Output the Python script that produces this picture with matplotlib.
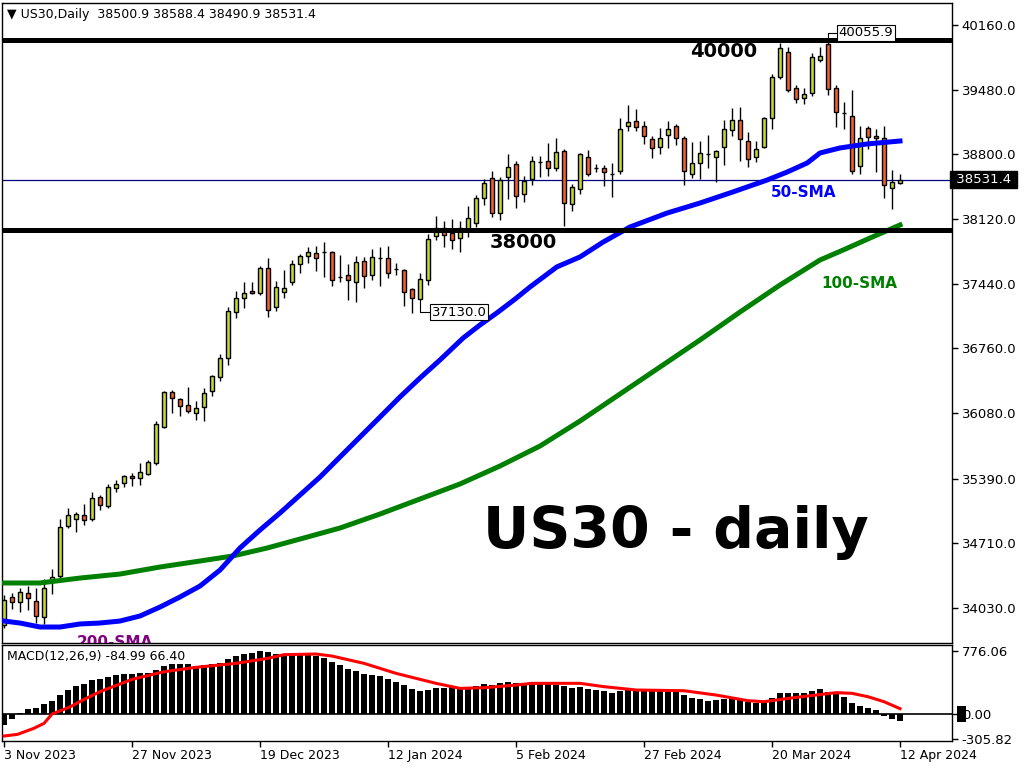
import matplotlib
matplotlib.use('Agg')
import matplotlib.pyplot as plt
import numpy as np
from matplotlib.patches import Rectangle

# daily candles, 3 Nov 2023 .. 12 Apr 2024
opens = [33851, 34146, 34093, 34188, 34104, 33935, 34303, 34366, 34892, 34966,
         35008, 34966, 35197, 35102, 35292, 35344, 35418, 35397, 35439, 35555,
         35933, 36301, 36228, 36164, 36080, 36143, 36311, 36459, 36659, 37142,
         37290, 37363, 37342, 37605, 37195, 37353, 37458, 37647, 37731, 37763,
         37773, 37773, 37510, 37531, 37458, 37679, 37531, 37705, 37710, 37596,
         37584, 37384, 37279, 37479, 37941, 38026, 37973, 37920, 38015, 38078,
         38341, 38551, 38183, 38562, 38699, 38383, 38541, 38715, 38730, 38657,
         38835, 38278, 38436, 38772, 38655, 38657, 38590, 38625, 39098, 39151,
         39098, 38962, 38877, 39004, 39098, 38972, 38593, 38709, 38806, 38772,
         38877, 39056, 39161, 38940, 38772, 38877, 39182, 39613, 39876, 39498,
         39393, 39445, 39792, 39960, 39498, 39230, 39203, 38677, 39077, 38993,
         38972, 38446, 38500.9]
highs = [34167, 34188, 34240, 34261, 34240, 34335, 34440, 34966, 35081, 35039,
         35123, 35250, 35218, 35334, 35376, 35428, 35449, 35555, 35586, 35996,
         36311, 36322, 36238, 36354, 36206, 36343, 36480, 36701, 37195, 37363,
         37458, 37458, 37626, 37710, 37468, 37584, 37689, 37752, 37826, 37836,
         37878, 37784, 37742, 37647, 37731, 37721, 37805, 37826, 37836, 37658,
         37594, 37395, 37552, 37962, 38152, 38099, 38120, 38099, 38257, 38373,
         38541, 38625, 38562, 38804, 38730, 38572, 38783, 38783, 38919, 38972,
         38856, 38488, 38814, 38846, 38699, 38688, 38709, 39183, 39319, 39277,
         39151, 38993, 39077, 39151, 39119, 38993, 38930, 38940, 39004, 38846,
         39161, 39288, 39298, 39035, 38940, 39193, 39645, 39971, 39929, 39529,
         39498, 39866, 39929, 39975, 39529, 39351, 39477, 39098, 39098, 39067,
         39098, 38635, 38588.4]
lows = [33820, 34019, 33988, 34009, 33872, 33862, 34177, 34335, 34871, 34829,
        34903, 34945, 35060, 35081, 35250, 35302, 35313, 35323, 35428, 35534,
        35923, 36080, 36049, 36080, 36007, 35996, 36259, 36417, 36585, 37079,
        37184, 37332, 37321, 37090, 37153, 37290, 37426, 37552, 37658, 37573,
        37510, 37416, 37458, 37269, 37248, 37395, 37479, 37416, 37500, 37531,
        37205, 37130, 37269, 37426, 37899, 37826, 37805, 37773, 37931, 38036,
        38267, 38141, 38110, 38331, 38236, 38299, 38478, 38562, 38572, 38625,
        38047, 38204, 38383, 38572, 38615, 38467, 38352, 38593, 39046, 39046,
        38909, 38762, 38804, 38867, 38898, 38478, 38551, 38541, 38657, 38509,
        38688, 38993, 38730, 38667, 38720, 38870, 39067, 39592, 39456, 39340,
        39330, 39414, 39771, 39424, 39088, 39067, 38593, 38593, 38856, 38615,
        38341, 38225, 38490.9]
closes = [34114, 34093, 34198, 34135, 33946, 34240, 34356, 34882, 35008, 35018,
          34955, 35187, 35113, 35302, 35334, 35418, 35397, 35460, 35565, 35965,
          36301, 36238, 36154, 36101, 36133, 36291, 36469, 36659, 37153, 37290,
          37342, 37342, 37605, 37163, 37405, 37395, 37647, 37731, 37773, 37710,
          37768, 37479, 37505, 37479, 37668, 37521, 37721, 37712, 37552, 37590,
          37353, 37290, 37489, 37910, 38026, 37952, 37899, 38026, 38130, 38341,
          38499, 38183, 38530, 38667, 38362, 38520, 38730, 38720, 38657, 38825,
          38288, 38457, 38804, 38593, 38660, 38615, 38595, 39067, 39140, 39088,
          38993, 38867, 38972, 39067, 38972, 38625, 38709, 38814, 38800, 38835,
          39067, 39161, 38962, 38751, 38856, 39182, 39613, 39918, 39477, 39382,
          39435, 39824, 39834, 39487, 39245, 39235, 38625, 38972, 38982, 38972,
          38478, 38509, 38531.4]

# moving averages (bar position, value)
sma50_idx = [0, 2, 4.5, 7, 9.5, 12, 14.5, 17, 19.5, 22, 24.5, 27, 29.5, 32, 34.5,
             37, 39.5, 42, 44.5, 47, 49.5, 52, 54.5, 57.4, 59.5, 61.6, 63.9, 65.75,
             69.1, 72, 74.9, 78.25, 82.9, 87, 91.1, 95.4, 97.9, 100.4, 102, 104.5,
             107.9, 112]
sma50_val = [33893, 33872, 33830, 33830, 33862, 33872, 33893, 33946, 34040, 34146,
             34261, 34429, 34661, 34850, 35029, 35218, 35407, 35618, 35828, 36038,
             36249, 36448, 36638, 36869, 37006, 37132, 37279, 37405, 37616, 37721,
             37878, 38036, 38183, 38288, 38404, 38530, 38614, 38709, 38814, 38867,
             38909, 38940]
sma100_idx = [0, 4.5, 9.5, 14.5, 19.5, 24.5, 28.6, 32.9, 37, 42, 47, 52, 57, 62,
              67, 72, 77, 82, 87, 92, 97, 102, 104.9, 108.25, 112]
sma100_val = [34293, 34293, 34345, 34387, 34461, 34524, 34577, 34661, 34755, 34871,
              35018, 35176, 35334, 35523, 35733, 35996, 36280, 36564, 36848, 37142,
              37426, 37689, 37794, 37920, 38057]

# MACD(12,26,9): main as histogram, signal as line
macd = [-135, -62, 16, 62, 74, 123, 160, 234, 296, 345, 369, 419, 431, 456, 484,
        493, 493, 505, 505, 542, 591, 616, 616, 616, 591, 603, 616, 628, 677, 714,
        739, 751, 776, 764, 739, 739, 727, 739, 727, 714, 690, 640, 603, 554, 530,
        493, 480, 468, 431, 394, 357, 308, 283, 296, 320, 320, 332, 320, 332, 345,
        369, 357, 378, 390, 378, 378, 390, 378, 365, 357, 345, 316, 328, 308, 296,
        283, 263, 287, 296, 304, 296, 296, 296, 296, 296, 234, 193, 181, 164, 172,
        181, 193, 181, 152, 140, 152, 193, 263, 263, 263, 263, 283, 308, 275, 255,
        213, 140, 99, 70, 49, -25, -66, -84.99]
signal_idx = [0, 1.7, 3.7, 5, 6, 8.3, 10, 12, 16, 20, 24, 29, 33, 35, 39, 41, 45,
              49, 54, 57, 60, 64, 66, 72, 75, 79, 85, 89, 93, 95, 99, 104, 106, 108,
              110, 112]
signal_val = [-271, -250, -177, -115, 0, 90, 180, 275, 427, 521, 575, 624, 686, 731,
              739, 714, 624, 501, 378, 316, 324, 357, 378, 378, 337, 296, 287, 234,
              164, 152, 205, 263, 255, 213, 152, 66.40]

price_ticks = [40160.0, 39480.0, 38800.0, 38120.0, 37440.0, 36760.0, 36080.0,
               35390.0, 34710.0, 34030.0]
date_idx = [0, 16, 32, 48, 64, 80, 96, 112]
date_labels = ['3 Nov 2023', '27 Nov 2023', '19 Dec 2023', '12 Jan 2024',
               '5 Feb 2024', '27 Feb 2024', '20 Mar 2024', '12 Apr 2024']

W, H = 1024, 768
def rect(x0, y0, x1, y1):
    return [x0 / W, 1 - y1 / H, (x1 - x0) / W, (y1 - y0) / H]

fig = plt.figure(figsize=(W / 100, H / 100), dpi=100)
ax = fig.add_axes(rect(2, 3, 952, 643))
axm = fig.add_axes(rect(2, 645, 952, 741))

bull = '#C6D62E'
bear = '#F2602A'
o = np.array(opens); h = np.array(highs); l = np.array(lows); c = np.array(closes)
idx = np.arange(len(o))
cols = np.where(c >= o, bull, bear)
ax.vlines(idx, l, h, color='black', lw=1, zorder=2)
ax.bar(idx, np.abs(c - o), bottom=np.minimum(o, c), width=0.62, color=cols,
       edgecolor='black', linewidth=1, zorder=3)

ax.axhline(closes[-1], color='#000080', lw=0.9, zorder=1)
ax.plot(sma100_idx, sma100_val, color='#008000', lw=3.6, zorder=4)
ax.plot(sma50_idx, sma50_val, color='#0000FF', lw=3.6, zorder=4)
for lev in (40000, 38000):
    ax.axhline(lev, color='black', lw=3.6, zorder=5)

bold = dict(family='DejaVu Sans', weight='bold', ha='center', va='baseline', zorder=6)
ax.text(89.9, 39824, '40000', fontsize=14, color='black', **bold)
ax.text(64.9, 37815, '38000', fontsize=14, color='black', **bold)
ax.text(99.9, 38352, '50-SMA', fontsize=11, color='#0000FF', **bold)
ax.text(106.9, 37395, '100-SMA', fontsize=11, color='#008000', **bold)
t200 = ax.text(13.9, 33620, '200-SMA', fontsize=11, color='#800080', **bold)
t200.set_clip_on(True)
t200.set_clip_box(ax.bbox)
ax.text(84, 34661, 'US30 - daily', fontsize=41, color='black', **bold)

# high / low markers
ax.plot([103, 103, 104.25], [39975, 40076, 40076], color='black', lw=0.8, zorder=6)
ax.text(104.3, 40076, '40055.9', fontsize=9.5, ha='left', va='center', zorder=7,
        bbox=dict(boxstyle='square,pad=0.12', fc='white', ec='black', lw=0.8))
ax.plot([52, 52, 53.4], [37269, 37142, 37142], color='black', lw=0.8, zorder=6)
ax.text(53.45, 37142, '37130.0', fontsize=9.5, ha='left', va='center', zorder=7,
        bbox=dict(boxstyle='square,pad=0.12', fc='white', ec='black', lw=0.8))

ax.set_xlim(-0.25, 118.5)
ax.set_ylim(33662, 40391)
ax.set_xticks([])
ax.yaxis.tick_right()
ax.set_yticks(price_ticks, ['%.1f' % t for t in price_ticks])
ax.tick_params(axis='y', direction='out', length=4, width=1, labelsize=9.5, pad=3)
for lbl in ax.get_yticklabels():
    lbl.set_ha('left')

ax.text(1.0, closes[-1], ' %.1f ' % closes[-1], transform=ax.get_yaxis_transform(),
        fontsize=9.5, color='white', ha='left', va='center', clip_on=False,
        bbox=dict(boxstyle='square,pad=0.15', fc='black', ec='black'))
ax.text(0.005, 0.982, '\u25bc US30,Daily  38500.9 38588.4 38490.9 38531.4',
        transform=ax.transAxes, fontsize=9, ha='left', va='center')

# MACD panel
axm.bar(np.arange(len(macd)), macd, width=0.78, color='black', zorder=2)
axm.plot(signal_idx, signal_val, color='#FF0000', lw=2.2, zorder=3)
axm.axhline(0, color='black', lw=1.2, zorder=1)
axm.set_xlim(-0.25, 118.5)
axm.set_ylim(-332, 850)
axm.yaxis.tick_right()
axm.set_yticks([776.06, 0, -305.82], ['776.06', '0.00', '-305.82'])
axm.tick_params(axis='y', direction='out', length=4, width=1, labelsize=9.5, pad=3)
for lbl in axm.get_yticklabels():
    lbl.set_ha('left')
axm.set_xticks(date_idx, date_labels)
axm.tick_params(axis='x', direction='out', length=4, width=1, labelsize=9, pad=2)
for lbl in axm.get_xticklabels():
    lbl.set_ha('left')
axm.text(0.005, 0.88, 'MACD(12,26,9) -84.99 66.40', transform=axm.transAxes,
         fontsize=9, ha='left', va='center')
fig.patches.append(Rectangle((957 / W, 1 - 722 / H), 9 / W, 16 / H,
                             transform=fig.transFigure, fc='black', zorder=0))

for a in (ax, axm):
    for s in a.spines.values():
        s.set_color('black')
        s.set_linewidth(1)

fig.savefig('out.png', dpi=100, facecolor='white')
